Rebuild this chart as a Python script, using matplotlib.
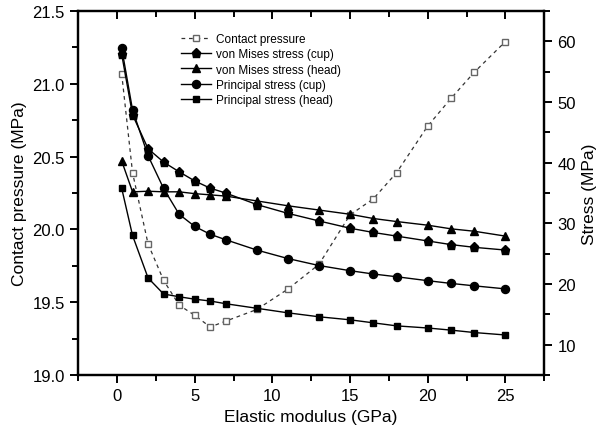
import numpy as np
import matplotlib
matplotlib.use("Agg")
import matplotlib.pyplot as plt
from matplotlib.ticker import MultipleLocator

plt.rcParams['font.family'] = ['Liberation Sans', 'DejaVu Sans']

# elastic modulus (GPa)
modulus = [0.3, 1, 2, 3, 4, 5, 6, 7, 9, 11, 13, 15, 16.5, 18, 20, 21.5, 23, 25]

# left axis: contact pressure (MPa)
contact_pressure = [21.07, 20.39, 19.90, 19.65, 19.48, 19.41, 19.33, 19.37, 19.45,
                    19.59, 19.76, 20.10, 20.21, 20.39, 20.71, 20.90, 21.08, 21.29]

# right axis: stresses (MPa)
vm_cup = [57.9, 47.9, 42.3, 40.1, 38.5, 37.0, 35.8, 35.0, 33.1,
          31.65, 30.4, 29.2, 28.5, 27.9, 27.1, 26.5, 26.05, 25.6]
vm_head = [40.3, 35.2, 35.3, 35.2, 35.2, 34.9, 34.7, 34.5, 33.7,
           32.9, 32.2, 31.5, 30.8, 30.3, 29.7, 29.1, 28.7, 27.9]
pr_cup = [58.9, 48.7, 41.15, 35.75, 31.5, 29.5, 28.2, 27.3, 25.6,
          24.2, 23.05, 22.2, 21.65, 21.2, 20.55, 20.1, 19.7, 19.2]
pr_head = [35.8, 28.0, 21.0, 18.35, 17.9, 17.5, 17.2, 16.75, 16.0,
           15.25, 14.6, 14.1, 13.6, 13.1, 12.75, 12.4, 12.0, 11.6]

fig = plt.figure(figsize=(6.06, 4.39), dpi=100)
ax = fig.add_axes([0.129, 0.1435, 0.769, 0.829])
ax2 = ax.twinx()

h0, = ax.plot(modulus, contact_pressure, linestyle=(0, (3, 3)), color='#333333', lw=0.9,
              marker='s', ms=5, mfc='white', mec='#666666', mew=1.0,
              label='Contact pressure')
h1, = ax2.plot(modulus, vm_cup, '-', color='black', lw=1.0, marker='p', ms=6.5,
               label='von Mises stress (cup)')
h2, = ax2.plot(modulus, vm_head, '-', color='black', lw=1.0, marker='^', ms=6,
               label='von Mises stress (head)')
h3, = ax2.plot(modulus, pr_cup, '-', color='black', lw=1.0, marker='o', ms=5.8,
               label='Principal stress (cup)')
h4, = ax2.plot(modulus, pr_head, '-', color='black', lw=1.0, marker='s', ms=5,
               label='Principal stress (head)')

ax.set_xlim(-2.5, 27.5)
ax.set_ylim(19.0, 21.5)
ax2.set_ylim(5, 65)

ax.xaxis.set_major_locator(MultipleLocator(5))
ax.xaxis.set_minor_locator(MultipleLocator(2.5))
ax.yaxis.set_major_locator(MultipleLocator(0.5))
ax.yaxis.set_minor_locator(MultipleLocator(0.25))
ax2.yaxis.set_major_locator(MultipleLocator(10))
ax2.yaxis.set_minor_locator(MultipleLocator(5))
ax.yaxis.set_major_formatter(matplotlib.ticker.FormatStrFormatter('%.1f'))

for a in (ax, ax2):
    for s in a.spines.values():
        s.set_linewidth(1.6)

ax.tick_params(axis='x', which='both', direction='out', top=True, labelsize=12, width=1.4)
ax.tick_params(axis='x', which='major', length=6)
ax.tick_params(axis='x', which='minor', length=4)
ax.tick_params(axis='y', which='both', direction='out', labelsize=12, width=1.4)
ax.tick_params(axis='y', which='major', length=6)
ax.tick_params(axis='y', which='minor', length=4)
ax2.tick_params(axis='y', which='both', direction='out', labelsize=12, width=1.4)
ax2.tick_params(axis='y', which='major', length=6)
ax2.tick_params(axis='y', which='minor', length=4)
# top ticks point inward
for t in ax.xaxis.get_major_ticks() + ax.xaxis.get_minor_ticks():
    t.tick2line.set_marker(matplotlib.markers.TICKDOWN)

ax.set_xlabel('Elastic modulus (GPa)', fontsize=12.5)
ax.set_ylabel('Contact pressure (MPa)', fontsize=12.5)
ax2.set_ylabel('Stress (MPa)', fontsize=12.5)

ax.legend(handles=[h0, h1, h2, h3, h4], loc='upper left', bbox_to_anchor=(0.22, 0.94),
          frameon=False, fontsize=8.5, handlelength=2.6, handletextpad=0.4,
          labelspacing=0.28, borderpad=0, borderaxespad=0)

fig.savefig('out.png', dpi=100)
